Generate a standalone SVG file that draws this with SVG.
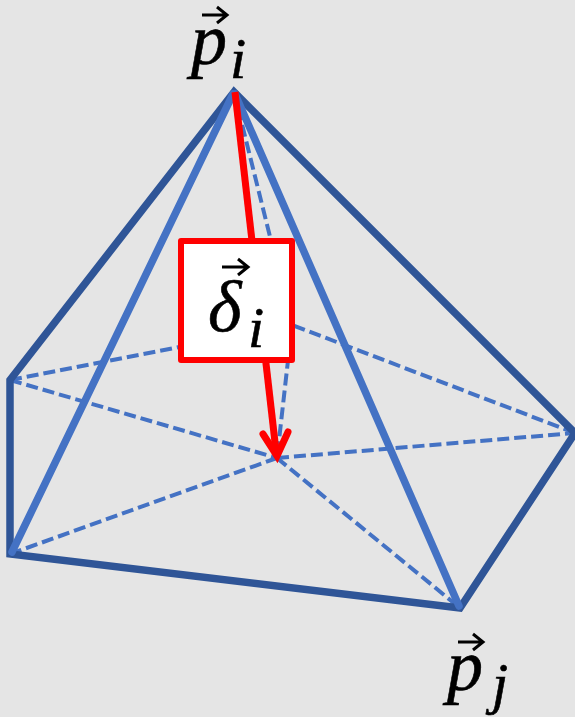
<svg xmlns="http://www.w3.org/2000/svg" width="575" height="717" viewBox="0 0 575 717">
<style>
.dark{fill:none;stroke:#2f5597;stroke-width:7.5;stroke-linejoin:miter}
.light{fill:none;stroke:#4472c4;stroke-width:7.5;stroke-linecap:round}
.dash{fill:none;stroke:#4472c4;stroke-width:4;stroke-dasharray:12 5}
.red{fill:none;stroke:#ff0000;stroke-width:7}
.vec{fill:none;stroke:#000;stroke-width:3}
text{font-family:"Liberation Serif",serif;font-style:italic;fill:#000;stroke:#000;stroke-width:.6}
.big{font-size:72px}
.sub{font-size:58px}
</style>
<rect width="575" height="717" fill="#e5e5e5"/>
<g id="connectors">
<path class="dash" d="M10 380L292 325L575 433"/>
<path class="dash" d="M10 380L277 458"/>
<path class="dash" d="M277 458L575 433"/>
<path class="dash" d="M10 554L277 458"/>
<path class="dash" d="M277 458L460 608"/>
<path class="dash" d="M234 92L292 325L277 458"/>
<path class="dark" d="M234 92L10 380V554L460 608L575 433Z"/>
<path class="light" d="M233 94L12 552"/>
<path class="light" d="M235 94L459 606"/>
<path class="red" d="M235 92L276 451"/>
<path class="red" d="M263 434L277 456L288 432" stroke-linecap="round" stroke-width="9"/>
</g>
<g id="node-delta">
<rect x="181" y="241" width="111" height="119" fill="#fff" stroke="#ff0000" stroke-width="6" stroke-linejoin="round"/>
<text class="big" x="208" y="331">δ</text>
<text class="sub" x="248" y="347">i</text>
<path class="vec" d="M222 267H248M238 259L248 267L238 275"/>
</g>
<g id="node-pi">
<text class="big" x="191" y="64">p</text>
<text class="sub" x="230" y="78">i</text>
<path class="vec" d="M202 15H227M217 7L227 15L217 23"/>
</g>
<g id="node-pj">
<text class="big" x="447" y="690">p</text>
<text class="sub" x="492" y="703">j</text>
<path class="vec" d="M458 642H483M473 634L483 642L473 650"/>
</g>
</svg>
